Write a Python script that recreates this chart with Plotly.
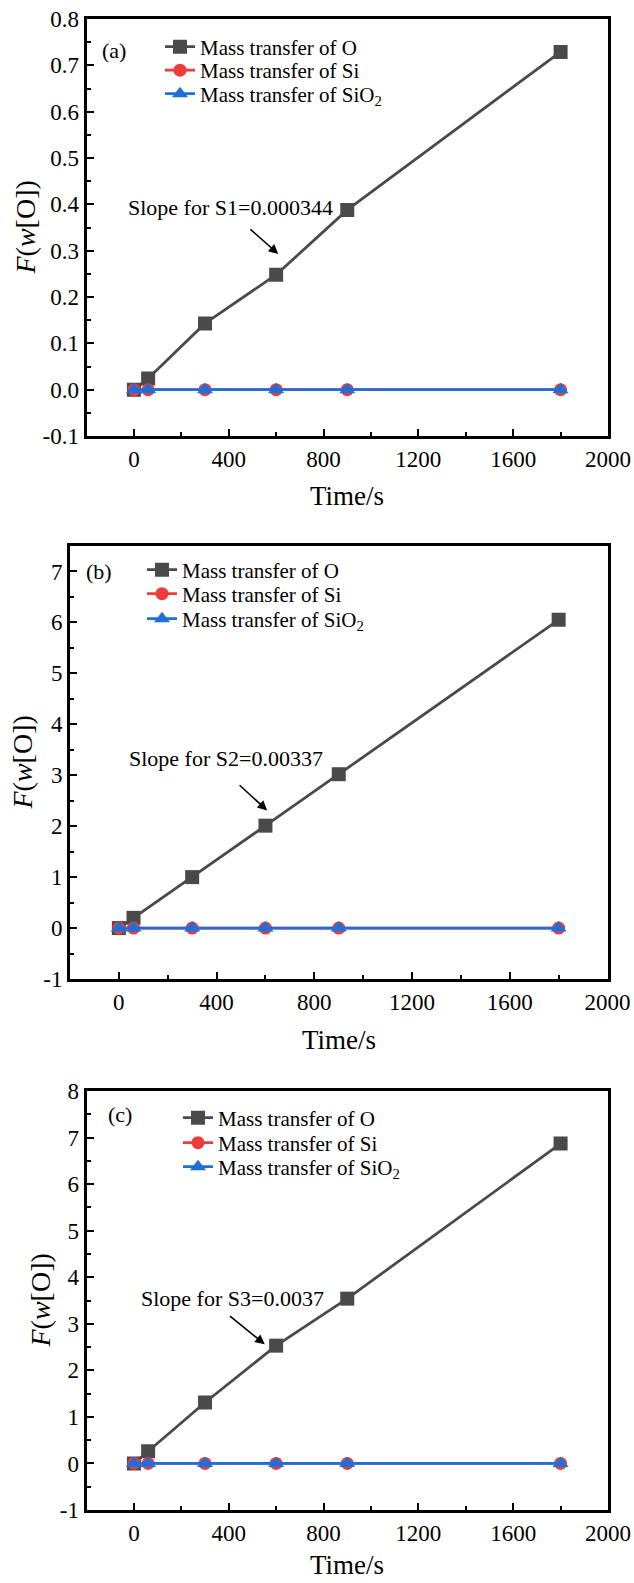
import plotly.graph_objects as go

# ---- data -------------------------------------------------------------
time_s = [0, 60, 300, 600, 900, 1800]

o_a = [0, 0.024, 0.143, 0.248, 0.388, 0.729]
o_b = [0, 0.20, 1.00, 2.01, 3.02, 6.05]
o_c = [0, 0.26, 1.31, 2.53, 3.54, 6.87]

si_a = [0, 0, 0, 0, 0, 0]
si_b = [0, 0, 0, 0, 0, 0]
si_c = [0, 0, 0, 0, 0, 0]

sio2_a = [0, 0, 0, 0, 0, 0]
sio2_b = [0, 0, 0, 0, 0, 0]
sio2_c = [0, 0, 0, 0, 0, 0]

series_names = ["Mass transfer of O", "Mass transfer of Si",
                "Mass transfer of SiO<sub>2</sub>"]
panel_tags = ["(a)", "(b)", "(c)"]
slope_texts = ["Slope for S1=0.000344", "Slope for S2=0.00337",
               "Slope for S3=0.0037"]

x_tickvals = [0, 400, 800, 1200, 1600, 2000]
x_ticktext = ["0", "400", "800", "1200", "1600", "2000"]

y_tickvals_a = [-0.1, 0.0, 0.1, 0.2, 0.3, 0.4, 0.5, 0.6, 0.7, 0.8]
y_ticktext_a = ["-0.1", "0.0", "0.1", "0.2", "0.3", "0.4", "0.5", "0.6", "0.7", "0.8"]
y_tickvals_b = [-1, 0, 1, 2, 3, 4, 5, 6, 7]
y_ticktext_b = ["-1", "0", "1", "2", "3", "4", "5", "6", "7"]
y_tickvals_c = [-1, 0, 1, 2, 3, 4, 5, 6, 7, 8]
y_ticktext_c = ["-1", "0", "1", "2", "3", "4", "5", "6", "7", "8"]

# ---- layout geometry (pixels of the 634 x 1583 page) -----------------
W, H = 634, 1583
FONT = "Liberation Serif, Times New Roman, serif"


def px_x(p):
    return p / W


def px_y(p):
    return 1 - p / H


panels = [
    dict(o=o_a, si=si_a, sio2=sio2_a, left=86.5, right=608, top=19, bottom=436,
         yrange=[-0.1, 0.8], ytv=y_tickvals_a, ytt=y_ticktext_a, yminor=0.05,
         legend_x=160, legend_rows=(47, 70.5, 94), tag_xy=(114, 50), ytitle_x=25,
         xtitle_y=496,
         slope_xy=(409, 0.394), arrow_tail=(485, 0.349), arrow_head=(609, 0.293)),
    dict(o=o_b, si=si_b, sio2=sio2_b, left=70, right=607.5, top=546, bottom=979,
         yrange=[-1, 7.5], ytv=y_tickvals_b, ytt=y_ticktext_b, yminor=0.5,
         legend_x=142, legend_rows=(570, 594, 619), tag_xy=(99, 571), ytitle_x=22,
         xtitle_y=1040,
         slope_xy=(438, 3.32), arrow_tail=(488, 2.83), arrow_head=(607, 2.31)),
    dict(o=o_c, si=si_c, sio2=sio2_c, left=86.5, right=608, top=1091, bottom=1510,
         yrange=[-1, 8], ytv=y_tickvals_c, ytt=y_ticktext_c, yminor=0.5,
         legend_x=178, legend_rows=(1118, 1143, 1167), tag_xy=(120, 1114), ytitle_x=40,
         xtitle_y=1565,
         slope_xy=(417, 3.54), arrow_tail=(399, 3.19), arrow_head=(552, 2.56)),
]

colors = ["#4a4a4a", "#ef3b3b", "#1f6fd8"]
symbols = ["square", "circle", "triangle-up"]
msizes = [14, 13, 14]

fig = go.Figure()
annotations = []
layout_parts = {}

for i, p in enumerate(panels):
    k = "" if i == 0 else str(i + 1)
    xa, ya = "x" + k, "y" + k
    for j, ys in enumerate([p["o"], p["si"], p["sio2"]]):
        n = 3 * i + j + 1
        leg = "legend" if n == 1 else "legend" + str(n)
        fig.add_trace(go.Scatter(
            x=time_s, y=ys, mode="lines+markers", name=series_names[j],
            xaxis=xa, yaxis=ya, legend=leg,
            line=dict(color=colors[j], width=2.8),
            marker=dict(symbol=symbols[j], size=msizes[j], color=colors[j]),
        ))
        # one legend box per entry so rows can sit at their own heights
        layout_parts[leg] = dict(
            x=px_x(p["legend_x"]), y=px_y(p["legend_rows"][j]),
            xanchor="left", yanchor="middle", bgcolor="rgba(0,0,0,0)",
            font=dict(family=FONT, size=21, color="black"),
            itemwidth=30)

    axis_common = dict(showline=True, linecolor="black", linewidth=3,
                       mirror=True, ticks="inside", tickwidth=2, ticklen=7,
                       tickcolor="black", showgrid=False, zeroline=False,
                       automargin=False,
                       tickfont=dict(family=FONT, size=23, color="black"))
    layout_parts["xaxis" + k] = dict(
        axis_common, domain=[px_x(p["left"]), px_x(p["right"])],
        range=[-200, 2000], anchor=ya,
        tickvals=x_tickvals, ticktext=x_ticktext,
        minor=dict(ticks="inside", ticklen=4, tickwidth=2,
                   dtick=200, tick0=0, tickcolor="black"))
    layout_parts["yaxis" + k] = dict(
        axis_common, domain=[px_y(p["bottom"]), px_y(p["top"])],
        range=p["yrange"], anchor=xa,
        tickvals=p["ytv"], ticktext=p["ytt"],
        minor=dict(ticks="inside", ticklen=4, tickwidth=2,
                   dtick=p["yminor"], tick0=0, tickcolor="black"))

    # panel tag
    annotations.append(dict(text=panel_tags[i], xref="paper", yref="paper",
                             x=px_x(p["tag_xy"][0]), y=px_y(p["tag_xy"][1]),
                             xanchor="center", yanchor="middle",
                             showarrow=False, font=dict(family=FONT, size=22)))
    # axis titles
    annotations.append(dict(text="<i>F</i>(<i>w</i>[O])", xref="paper", yref="paper",
                             x=px_x(p["ytitle_x"]), y=px_y((p["top"] + p["bottom"]) / 2),
                             xanchor="center", yanchor="middle",
                             textangle=-90, showarrow=False,
                             font=dict(family=FONT, size=28)))
    annotations.append(dict(text="Time/s", xref="paper", yref="paper",
                             x=px_x((p["left"] + p["right"]) / 2), y=px_y(p["xtitle_y"]),
                             xanchor="center", yanchor="middle",
                             showarrow=False, font=dict(family=FONT, size=27)))
    # slope label and arrow
    annotations.append(dict(text=slope_texts[i], xref=xa, yref=ya,
                             x=p["slope_xy"][0], y=p["slope_xy"][1], showarrow=False,
                             xanchor="center", yanchor="middle",
                             font=dict(family=FONT, size=22)))
    annotations.append(dict(text="", xref=xa, yref=ya, axref=xa, ayref=ya,
                             x=p["arrow_head"][0], y=p["arrow_head"][1],
                             ax=p["arrow_tail"][0], ay=p["arrow_tail"][1],
                             showarrow=True, arrowhead=2, arrowsize=1.2,
                             arrowwidth=1.6, arrowcolor="black"))

for a in annotations:
    a.setdefault("font", {})
    a["font"].setdefault("color", "black")

fig.update_layout(**layout_parts)
fig.update_layout(width=W, height=H, margin=dict(l=0, r=0, t=0, b=0, autoexpand=False),
                  paper_bgcolor="white", plot_bgcolor="white",
                  font=dict(family=FONT, color="black"),
                  showlegend=True, annotations=annotations)

fig.write_html("out.html")
